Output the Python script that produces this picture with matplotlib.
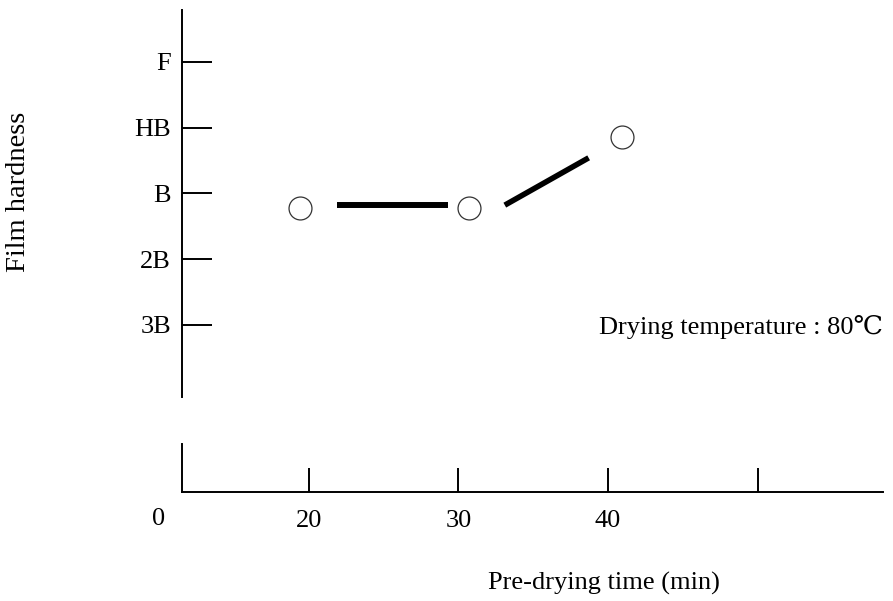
from matplotlib import pyplot as plt
from matplotlib import rcParams

rcParams['font.family'] = ['Liberation Serif', 'DejaVu Serif']
rcParams['font.size'] = 19

# data
hardness = ['3B', '2B', 'B', 'HB', 'F']
time_ticks = [20, 30, 40, 50]
time_labels = ['20', '30', '40', '']
pt_time = [19.4, 30.7, 40.9]
pt_hard = [1.77, 1.77, 2.85]
seg1_time = [21.9, 29.3]
seg1_hard = [1.82, 1.82]
seg2_time = [33.1, 38.7]
seg2_hard = [1.82, 2.54]

xlim = (11.54, 58.36)

fig = plt.figure(figsize=(8.93, 6.01), dpi=100)
ax = fig.add_axes([182/893, 204/601, 701/893, 387/601])
ax2 = fig.add_axes([182/893, 109/601, 701/893, 48/601])

lw = 1.4
for a in (ax, ax2):
    a.set_xlim(*xlim)
    for s in ['top', 'right']:
        a.spines[s].set_visible(False)
    a.spines['left'].set_linewidth(lw)
    a.spines['bottom'].set_linewidth(lw)

# upper part: hardness axis only
ax.spines['bottom'].set_visible(False)
ax.set_ylim(-1.10, 4.79)
ax.set_yticks(range(len(hardness)))
ax.set_yticklabels(hardness)
ax.tick_params(axis='y', direction='in', length=21.5, width=lw, pad=8)
ax.tick_params(axis='x', bottom=False, labelbottom=False)

ax.plot(pt_time, pt_hard, 'o', ms=16.5, mfc='white', mec='#333333', mew=0.9, clip_on=False)
ax.plot(seg1_time, seg1_hard, color='k', lw=4.3, solid_capstyle='butt')
ax.plot(seg2_time, seg2_hard, color='k', lw=4.0, solid_capstyle='butt')

ax.text(1.0, 0.181, 'Drying temperature : 80\u2103', transform=ax.transAxes,
        ha='right', va='center')

# lower part: time axis
ax2.set_ylim(0, 1)
ax2.set_yticks([])
ax2.set_xticks(time_ticks)
ax2.set_xticklabels(time_labels)
ax2.tick_params(axis='x', direction='in', length=17, width=lw, pad=13)
ax2.text(10.0, -0.5625, '0', ha='center', va='center', clip_on=False,
         transform=ax2.get_xaxis_transform())

fig.text(604/893, 1 - 583/601, 'Pre-drying time (min)', ha='center', va='center')
fig.text(19/893, 1 - 192/601, 'Film hardness', ha='center', va='center',
         rotation=90, fontsize=20.5)

fig.savefig('out.png', dpi=100)
